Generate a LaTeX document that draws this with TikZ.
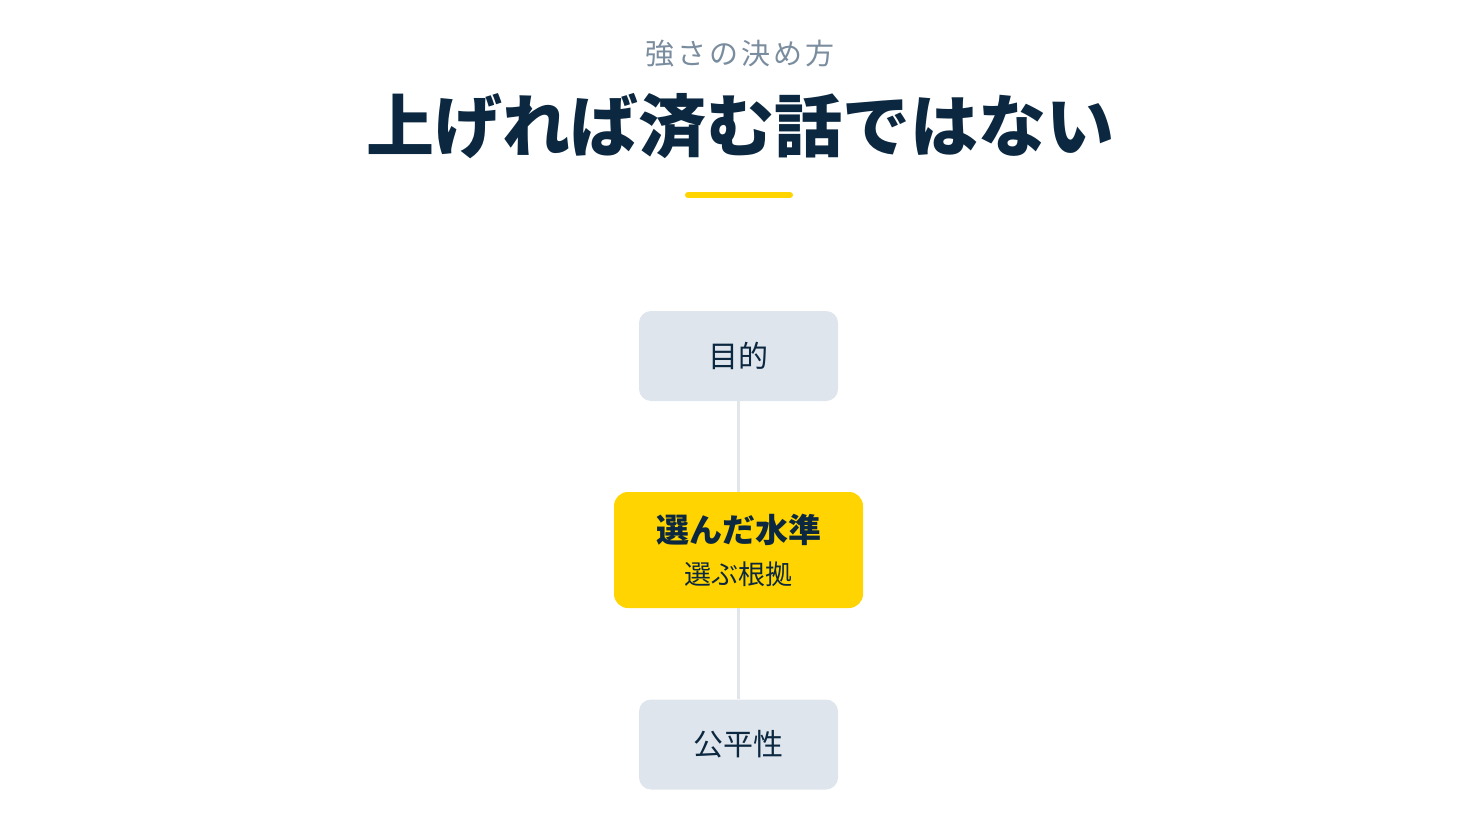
\documentclass[tikz,border=0pt]{standalone}
\usepackage{fontspec}
\setmainfont{Noto Sans CJK JP}
\usetikzlibrary{positioning}
\definecolor{ink}{HTML}{0B2840}
\definecolor{subgray}{HTML}{7A8D9E}
\definecolor{boxgray}{HTML}{DFE5EC}
\definecolor{gold}{HTML}{FFD400}
\definecolor{linegray}{HTML}{E2E5E9}

\begin{document}
\begin{tikzpicture}[x=1pt, y=-1pt,
    every node/.style = {align=center, text=ink, inner sep=0pt}]
    \tikzstyle{plain}=[rectangle, rounded corners=12pt, fill=boxgray,
      minimum width=199pt, minimum height=90pt,
      font=\fontsize{30}{36}\selectfont]
    \tikzstyle{chosen}=[rectangle, rounded corners=14pt, fill=gold,
      minimum width=249pt, minimum height=116pt]
    \tikzstyle{link}=[draw=linegray, line width=3pt]
  \useasboundingbox (0,0) rectangle (1480,832);
  \node[text=subgray, font=\fontsize{29}{34}\selectfont\addfontfeature{LetterSpace=10}] (kicker) at (740,54) {強さの決め方};
  \node[font=\fontsize{68}{82}\selectfont\bfseries] (title) at (740,126) {上げれば済む話ではない};
  \draw[gold, line width=6pt, line cap=round] (688,195) -- (790,195);
  \node[plain] (goal) at (738.5,356) {目的};
  \node[chosen] (level) at (738.5,550) {};
  \node[font=\fontsize{33}{40}\selectfont\bfseries] (levelname) at (738.5,530) {選んだ水準};
  \node[font=\fontsize{27}{32}\selectfont] (reason) at (738.5,574) {選ぶ根拠};
  \node[plain] (fair) at (738.5,744.5) {公平性};
  \draw[link] (goal) -- (level);
  \draw[link] (level) -- (fair);
\end{tikzpicture}
\end{document}
